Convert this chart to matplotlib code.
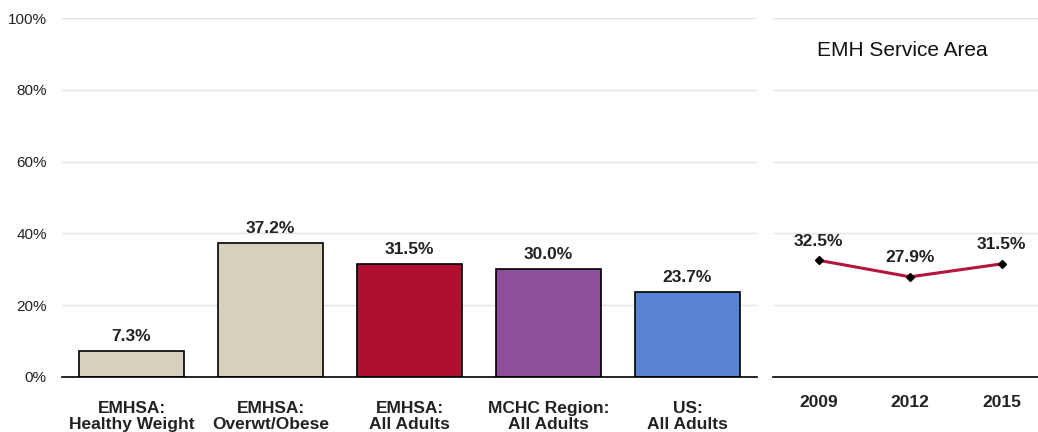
import matplotlib.pyplot as plt
import matplotlib.ticker as mticker

plt.rcParams['font.family'] = ['Liberation Sans Narrow', 'Liberation Sans', 'DejaVu Sans']

# bar panel data
categories = ["EMHSA:\nHealthy Weight", "EMHSA:\nOverwt/Obese", "EMHSA:\nAll Adults",
              "MCHC Region:\nAll Adults", "US:\nAll Adults"]
values = [7.3, 37.2, 31.5, 30.0, 23.7]
colors = ["#D6D0BD", "#D6D0BD", "#B01030", "#8C4F9A", "#5882D3"]

# trend panel data
years = ["2009", "2012", "2015"]
trend = [32.5, 27.9, 31.5]
trend_title = "EMH Service Area"

fig = plt.figure(figsize=(10.38, 4.32), dpi=100)
W, H = 1038, 432
y0, y1 = 377, 18  # pixel rows of 0% and 100%

ax = fig.add_axes([62 / W, (H - y0) / H, (757 - 62) / W, (y0 - y1) / H])
ax2 = fig.add_axes([773 / W, (H - y0) / H, (1040 - 773) / W, (y0 - y1) / H])

grid_color = "#E4E4E4"

# --- bar chart ---
x = range(len(categories))
ax.bar(x, values, width=0.76, color=colors, edgecolor="black", linewidth=1.2, zorder=3)
for i, v in zip(x, values):
    ax.text(i, v + 2.0, f"{v:.1f}%", ha="center", va="bottom",
            fontsize=12.5, fontweight="bold", color="#222222")
ax.set_xlim(-0.5, len(categories) - 0.5)
ax.set_ylim(0, 100)
ax.yaxis.set_major_locator(mticker.MultipleLocator(20))
ax.yaxis.set_major_formatter(mticker.FuncFormatter(lambda v, p: f"{v:.0f}%"))
ax.set_xticks(list(x))
ax.set_xticklabels(categories, fontsize=12.5, fontweight="bold", color="#222222",
                   linespacing=1.15)
ax.tick_params(axis="x", length=0, pad=17)
ax.tick_params(axis="y", length=0, labelsize=11, colors="#222222", pad=11)
ax.grid(axis="y", color=grid_color, linewidth=1, zorder=0)
for s in ["top", "right", "left"]:
    ax.spines[s].set_visible(False)
ax.spines["bottom"].set_linewidth(1.2)
ax.spines["bottom"].set_zorder(4)

# --- trend line ---
xi = range(len(years))
ax2.plot(xi, trend, color="#B5143C", linewidth=2.2, marker="D", markersize=4,
         markerfacecolor="black", markeredgecolor="black", zorder=3)
for i, v in zip(xi, trend):
    ax2.text(i, v + 3.2, f"{v:.1f}%", ha="center", va="bottom",
             fontsize=12.5, fontweight="bold", color="#222222")
ax2.text(0.91, 91, trend_title, ha="center", va="center", fontsize=15,
         family=["Liberation Sans", "DejaVu Sans"], color="#111111")
ax2.set_xlim(-0.5, 2.42)
ax2.set_ylim(0, 100)
ax2.yaxis.set_major_locator(mticker.MultipleLocator(20))
ax2.set_yticklabels([])
ax2.set_xticks(list(xi))
ax2.set_xticklabels(years, fontsize=12.5, fontweight="bold", color="#222222")
ax2.tick_params(axis="x", length=0, pad=13)
ax2.tick_params(axis="y", length=0)
ax2.grid(axis="y", color=grid_color, linewidth=1, zorder=0)
for s in ["top", "right", "left"]:
    ax2.spines[s].set_visible(False)
ax2.spines["bottom"].set_linewidth(1.2)

fig.savefig("out.png", dpi=100)
